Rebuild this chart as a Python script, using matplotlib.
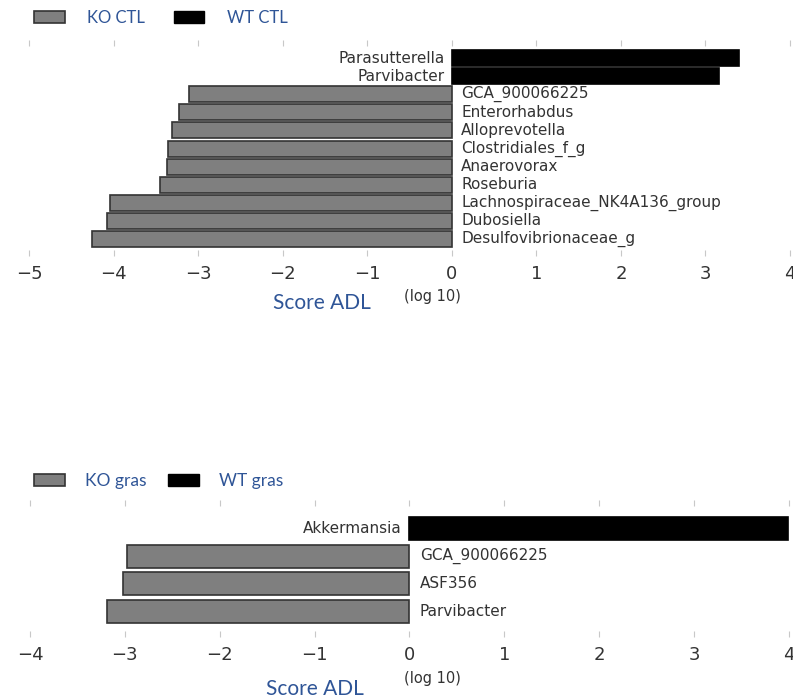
import matplotlib
matplotlib.use("Agg")
import matplotlib.pyplot as plt
from matplotlib.patches import Patch

# panel 1 : KO CTL vs WT CTL (bottom to top)
taxa_ctl = ["Desulfovibrionaceae_g", "Dubosiella", "Lachnospiraceae_NK4A136_group",
            "Roseburia", "Anaerovorax", "Clostridiales_f_g", "Alloprevotella",
            "Enterorhabdus", "GCA_900066225", "Parvibacter", "Parasutterella"]
score_ctl = [-4.26, -4.08, -4.04, -3.45, -3.37, -3.36, -3.31, -3.23, -3.11, 3.16, 3.40]

# panel 2 : KO gras vs WT gras (bottom to top)
taxa_gras = ["Parvibacter", "ASF356", "GCA_900066225", "Akkermansia"]
score_gras = [-3.19, -3.02, -2.98, 3.99]

ko_color = "#7f7f7f"
wt_color = "#000000"
blue = "#2f5597"
txt = "#333333"

fig = plt.figure(figsize=(7.93, 7.0), dpi=100)


def lda_panel(ax, taxa, scores, xlim, ylim, height):
    ypos = list(range(len(taxa)))
    colors = [ko_color if s < 0 else wt_color for s in scores]
    edges = ["#333333" if s < 0 else "#000000" for s in scores]
    ax.barh(ypos, scores, height=height, color=colors, edgecolor=edges, linewidth=1.2)
    for y, name, s in zip(ypos, taxa, scores):
        if s < 0:
            ax.text(0.11, y, name, ha="left", va="center", fontsize=11, color=txt)
        else:
            ax.text(-0.08, y, name, ha="right", va="center", fontsize=11, color=txt)
    ax.set_xlim(*xlim)
    ax.set_ylim(*ylim)
    ax.set_xticks(range(xlim[0], xlim[1] + 1))
    ax.set_yticks([])
    for sp in ax.spines.values():
        sp.set_visible(False)
    ax.tick_params(axis="x", top=True, bottom=True, direction="inout", length=5,
                   width=0.8, color="#c8c8c8", labelsize=13, labelcolor=txt, pad=6)
    handles = [Patch(facecolor=ko_color, edgecolor="#333333", linewidth=1.2),
               Patch(facecolor=wt_color, edgecolor="#000000")]
    return handles


ax1 = fig.add_axes([0.0366, 1 - 253 / 700, 0.9596, 210 / 700])
h1 = lda_panel(ax1, taxa_ctl, score_ctl, (-5, 4), (-0.77, 10.83), 0.88)
fig.legend(h1, ["KO CTL", "WT CTL"], loc="center left", bbox_to_anchor=(34 / 793, 1 - 18 / 700),
           ncol=2, frameon=False, borderaxespad=0, borderpad=0,
           handlelength=1.85, handleheight=0.75, handletextpad=1.35, columnspacing=1.7,
           prop={"family": "Lato", "size": 12}, labelcolor=blue)
fig.text(322 / 793, 1 - 303 / 700, "Score ADL", ha="center", va="center",
         fontsize=15, color=blue, family="Lato")
fig.text(432 / 793, 1 - 297 / 700, "(log 10)", ha="center", va="center",
         fontsize=10.5, color=txt)

ax2 = fig.add_axes([0.0378, 1 - 634 / 700, 0.9571, 131 / 700])
h2 = lda_panel(ax2, taxa_gras, score_gras, (-4, 4), (-0.81, 3.92), 0.83)
fig.legend(h2, ["KO gras", "WT gras"], loc="center left", bbox_to_anchor=(34 / 793, 1 - 481 / 700),
           ncol=2, frameon=False, borderaxespad=0, borderpad=0,
           handlelength=1.78, handleheight=0.72, handletextpad=1.15, columnspacing=1.25,
           prop={"family": "Lato", "size": 12.5}, labelcolor=blue)
fig.text(315 / 793, 1 - 689 / 700, "Score ADL", ha="center", va="center",
         fontsize=15, color=blue, family="Lato")
fig.text(432 / 793, 1 - 678 / 700, "(log 10)", ha="center", va="center",
         fontsize=10.5, color=txt)

fig.savefig("out.png", dpi=100)
